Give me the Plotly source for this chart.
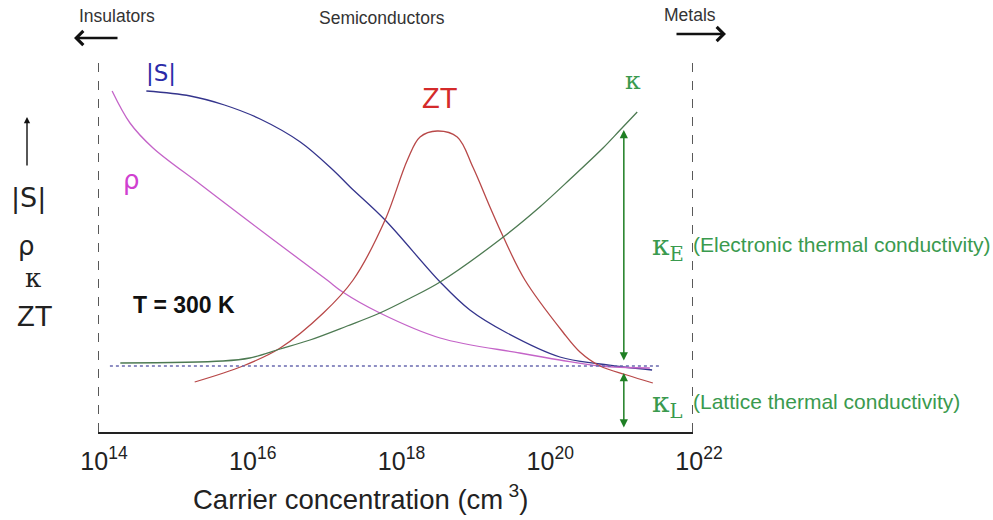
import numpy as np
import plotly.graph_objects as go

# ---------------- data (schematic, arbitrary units) ----------------
# x: log10 of carrier concentration (cm^-3); y: arbitrary units
s_logn = [14.65, 15.24, 15.70, 16.18, 16.72, 17.16, 17.39, 17.86, 18.60, 19.00, 19.50, 20.21, 20.75, 21.45]
s_val = [341, 336, 327, 313, 290, 262, 245, 212, 150, 122, 99, 75, 68, 62]

rho_logn = [14.19, 14.43, 14.74, 15.37, 16.04, 16.54, 17.08, 17.29, 17.79, 18.60, 19.67, 20.21, 20.75, 21.42]
rho_val = [341, 309, 284, 248, 210, 182, 152, 140, 119, 94, 79, 72, 66, 64]

zt_logn = [15.30, 15.95, 16.45, 17.03, 17.43, 17.86, 18.16, 18.33, 18.56, 18.83, 19.04, 19.27, 19.45,
           19.74, 20.25, 20.48, 20.75, 21.11, 21.46]
zt_val = [50, 66, 84, 119, 152, 212, 272, 295, 301, 295, 265, 225, 195, 152, 100, 80, 66, 57, 49]

kappa_logn = [14.30, 15.68, 16.04, 16.45, 16.85, 17.35, 17.79, 18.20, 18.60, 19.45, 19.94, 20.35,
              20.79, 21.02, 21.25]
kappa_val = [69, 71, 74, 83, 92, 106, 119, 134, 150, 195, 225, 253, 284, 302, 320]

lattice_logn = [14.16, 21.56]
lattice_val = [66, 66]

boundary_logn = [14.0, 22.0]       # insulator / metal boundaries
boundary_top = 376

arrow_logn = 21.07                 # position of the kappa_E / kappa_L arrows
kE_top, kE_bottom = 302, 70
kL_top, kL_bottom = 59, 3

tick_exp = [14, 16, 18, 20, 22]
tick_text = ["10<sup>%d</sup>" % e for e in tick_exp]

# ---------------- figure ----------------
W, H = 993, 520
L, R, T, B = 98, 300, 40, 88
YMAX = 392

def P(px, py):
    return (px - L) / (W - L - R), (H - B - py) / (H - T - B)

fig = go.Figure()

def curve(logn, vals, color, name):
    fig.add_trace(go.Scatter(x=10 ** np.array(logn), y=vals, mode="lines", name=name,
                             line=dict(color=color, width=1.3, shape="spline", smoothing=1.0),
                             hoverinfo="skip"))

curve(s_logn, s_val, "#34348c", "|S|")
curve(rho_logn, rho_val, "#c464c8", "rho")
curve(zt_logn, zt_val, "#b84848", "ZT")
curve(kappa_logn, kappa_val, "#4d7a52", "kappa")

fig.add_trace(go.Scatter(x=10 ** np.array(lattice_logn), y=lattice_val, mode="lines",
                         line=dict(color="#6a6ab0", width=1.3, dash="dot"), hoverinfo="skip"))

for b in boundary_logn:
    fig.add_trace(go.Scatter(x=[10 ** b, 10 ** b], y=[0, boundary_top], mode="lines",
                             line=dict(color="#222222", width=1.5, dash="dash"),
                             hoverinfo="skip", cliponaxis=False))

anns = []
green_arrow = "#1f7f24"
# kappa_E double arrow
anns.append(dict(x=arrow_logn, y=kE_top, ax=arrow_logn, ay=kE_bottom, xref="x", yref="y",
                 axref="x", ayref="y", text="", showarrow=True, arrowhead=2, arrowsize=1.1,
                 arrowwidth=1.5, arrowcolor=green_arrow, arrowside="end+start"))
# kappa_L double arrow
anns.append(dict(x=arrow_logn, y=kL_top, ax=arrow_logn, ay=kL_bottom, xref="x", yref="y",
                 axref="x", ayref="y", text="", showarrow=True, arrowhead=2, arrowsize=1.1,
                 arrowwidth=1.5, arrowcolor=green_arrow, arrowside="end+start"))

def text(px, py, s, size, color="#222222", family="Liberation Sans", xanchor="center", bold=False):
    x, y = P(px, py)
    if bold:
        s = "<b>" + s + "</b>"
    anns.append(dict(x=x, y=y, xref="paper", yref="paper", text=s, showarrow=False,
                     xanchor=xanchor, yanchor="middle",
                     font=dict(size=size, color=color, family=family)))

def arrow(tipx, tipy, tailx, taily, head, size=1.0, width=1.8, color="#111111"):
    x, y = P(tipx, tipy)
    anns.append(dict(x=x, y=y, xref="paper", yref="paper", ax=tailx - tipx, ay=taily - tipy,
                     text="", showarrow=True, arrowhead=head, arrowsize=size,
                     arrowwidth=width, arrowcolor=color))

# top labels
text(117, 16, "Insulators", 17.5, "#333333")
text(382, 18, "Semiconductors", 17.5, "#333333")
text(690, 15, "Metals", 17.5, "#333333")
arrow(74, 38, 119, 38, 4, 1.1, 2.5)
arrow(726, 34, 675, 34, 4, 1.1, 2.5)

# left axis labels
arrow(27, 117, 27, 167, 2, 0.9, 1.4)
text(28, 198, "|S|", 27, "#222222", "DejaVu Sans")
text(26, 246, "ρ", 26, "#222222", "DejaVu Sans")
text(33, 278, "κ", 26, "#222222", "DejaVu Serif")
text(35, 316, "ZT", 29, "#222222", "Liberation Sans")

# curve labels
text(161, 73, "|S|", 23, "#2b2ba8", "DejaVu Sans")
text(131, 180, "ρ", 26, "#d040d0", "DejaVu Sans")
text(440, 98, "ZT", 29, "#d42a2a", "Liberation Sans")
text(633, 80, "κ", 25, "#3a9a4e", "DejaVu Serif")

text(184, 305, "T = 300 K", 23, "#111111", "Liberation Sans", bold=True)

# kappa_E / kappa_L labels
green_txt = "#3a9a4e"
text(650, 248, "κ<sub>E</sub>", 28, green_txt, "DejaVu Serif", xanchor="left")
text(691, 244, "(Electronic thermal conductivity)", 21, green_txt, "Liberation Sans", xanchor="left")
text(650, 404, "κ<sub>L</sub>", 28, green_txt, "DejaVu Serif", xanchor="left")
text(691, 401, "(Lattice thermal conductivity)", 21, green_txt, "Liberation Sans", xanchor="left")

# x-axis title
text(360, 497, "Carrier concentration (cm<sup> 3</sup>)", 27.5, "#222222", "Liberation Sans")

fig.update_layout(
    width=W, height=H,
    margin=dict(l=L, r=R, t=T, b=B, pad=0),
    paper_bgcolor="white", plot_bgcolor="white",
    showlegend=False,
    annotations=anns,
    font=dict(family="Liberation Sans", color="#222222"),
)
fig.update_xaxes(type="log", range=[14, 22], tickvals=[10.0 ** e for e in tick_exp],
                 ticktext=tick_text, showgrid=False, zeroline=False, showline=True,
                 linecolor="#222222", linewidth=1.6, ticks="",
                 tickfont=dict(size=25, color="#222222", family="Liberation Sans"),
                 ticklabelshift=6, ticklabelstandoff=6)
fig.update_yaxes(range=[0, YMAX], showgrid=False, zeroline=False, showline=False,
                 showticklabels=False, ticks="")

fig.write_html("out.html", config={"displayModeBar": False},
               post_script="document.body.style.margin='0';")
